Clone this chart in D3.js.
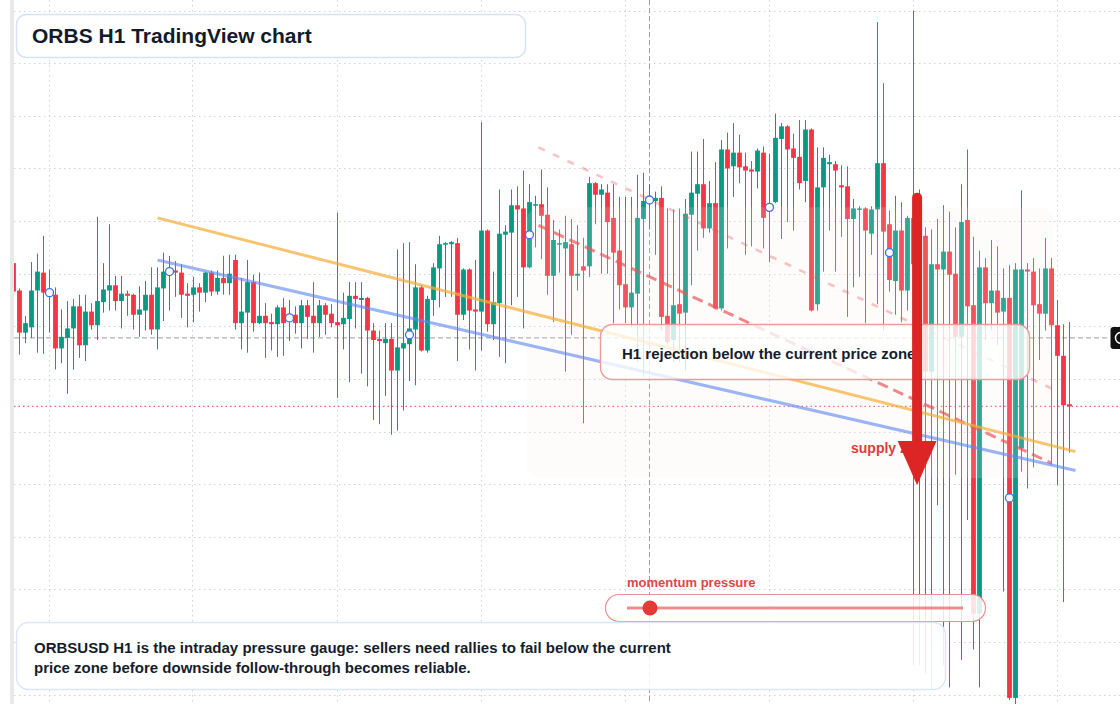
<!DOCTYPE html>
<html>
<head>
<meta charset="utf-8">
<script src="https://cdn.jsdelivr.net/npm/d3@7"></script>
<style>
  html, body { margin: 0; padding: 0; background: #fff; }
  svg { display: block; font-family: "Liberation Sans", Arial, Helvetica, sans-serif; }
</style>
</head>
<body>
<div id="chart"></div>
<script>
// ORBSUSD H1 candles, prices in 1e-5 USD (oldest first)
const PRICE_UNIT = 1e-5;
const open = [2060,2034,1994,1999,2034,2051,2034,2030,1979,1989,1998,2019,1982,2014,2001,2023,2034,2039,2024,2031,
  2030,2011,2015,2030,1997,2036,2052,2053,2051,2031,2030,2037,2032,2051,2033,2046,2041,2063,2003,2013,
  2042,2003,2010,2004,2002,2018,2008,2011,2003,2020,2010,2003,2020,2012,2004,2002,2007,2029,2025,2027,
  1996,1988,1984,1988,1958,1979,1983,1997,2037,1977,2025,2055,2078,2078,2079,2011,2054,2016,2014,2091,
  2002,2022,2087,2089,2115,2112,2056,2115,2116,2106,2048,2078,2074,2078,2048,2057,2057,2136,2125,2127,
  2103,2072,2040,2018,2031,2102,2119,2119,2122,2010,1987,2021,2013,2106,2126,2135,2093,2117,2017,2168,
  2152,2165,2152,2149,2147,2165,2111,2118,2178,2190,2169,2161,2138,2187,2021,2132,2154,2154,2134,2133,
  2102,2111,2112,2088,2111,2155,2097,2043,2091,2034,2103,2059,2086,1957,2059,2054,2071,2050,1990,2101,
  2020,1727,2056,2022,2034,2014,2027,1647,1884,2054,2052,2021,2012,2055,2001,1972,1926];
const high = [2065,2036,2010,2061,2069,2086,2054,2037,2016,2024,2026,2030,2030,2022,2104,2060,2097,2048,2048,2034,
  2031,2038,2043,2056,2056,2070,2067,2062,2059,2041,2047,2041,2052,2053,2053,2067,2068,2068,2046,2063,
  2049,2051,2022,2012,2020,2027,2025,2019,2025,2025,2042,2025,2022,2021,2108,2032,2042,2042,2042,2028,
  2003,1996,2003,2003,2073,2079,2080,2059,2039,2029,2060,2086,2080,2081,2084,2055,2055,2063,2194,2092,
  2052,2130,2096,2130,2133,2148,2135,2124,2149,2132,2101,2092,2105,2102,2096,2084,2142,2137,2135,2135,
  2135,2123,2123,2123,2144,2146,2135,2128,2133,2112,2111,2112,2121,2166,2166,2178,2138,2156,2177,2184,
  2193,2182,2165,2157,2169,2171,2164,2202,2193,2191,2183,2196,2196,2188,2170,2170,2163,2157,2153,2152,
  2121,2114,2113,2114,2289,2231,2110,2124,2118,2105,2300,2130,2094,2092,2102,2115,2109,2094,2135,2168,
  2085,2072,2065,2082,2076,2055,2058,2060,2129,2060,2065,2055,2084,2065,2025,2002,2004];
const low = [2029,1973,1984,1989,1975,1974,1994,1959,1965,1936,1959,1970,1967,1997,1987,2013,2015,2015,1998,2010,
  1997,1990,1996,1992,1978,2005,2015,2028,2008,1999,2004,2014,2023,2029,2030,2030,2030,1997,1978,1975,
  1995,2002,1970,1977,1971,1972,1986,1993,1979,1988,1975,1990,1992,1999,1932,1978,1947,1998,1955,1943,
  1911,1907,1934,1897,1901,1920,1948,1944,1976,1975,2010,2018,2028,2028,1967,2006,1978,1958,1977,1995,
  1987,1971,1965,2020,2028,1998,2055,2075,2064,2030,2004,2051,1957,1992,2034,1908,2047,2097,2050,2050,
  2003,2016,2003,1999,1966,1952,2092,2068,1996,1982,1966,1966,1958,2039,2072,2084,2089,2016,2015,2074,
  2123,2136,2068,2076,2131,2074,2061,2117,2083,2099,2091,2130,2118,2014,2015,2052,2091,2052,2085,2009,
  2037,2047,2003,2068,2021,1996,2033,2011,2004,2015,1678,1678,1670,1655,1830,1678,1657,1859,1683,1816,
  1693,1657,1987,1996,1982,1748,1645,1641,1862,1846,1866,1968,1996,1868,1849,1738,1880];
const close = [2033,1994,2003,2034,2052,2032,2030,1979,1990,1998,2019,1982,2014,2001,2024,2035,2039,2024,2031,2029,
  2011,2016,2030,1997,2037,2052,2053,2051,2030,2029,2037,2032,2051,2033,2046,2041,2050,2003,2014,2042,
  2003,2010,2003,2002,2018,2003,2007,2003,2020,2009,2003,2020,2011,2003,2001,2008,2029,2026,2027,1996,
  1987,1986,1988,1958,1980,1984,1998,2037,1977,2026,2056,2078,2079,2080,2011,2054,2015,2014,2091,2002,
  2023,2088,2090,2115,2111,2056,2118,2116,2105,2048,2082,2079,2080,2048,2050,2053,2136,2125,2130,2099,
  2070,2039,2018,2032,2103,2119,2121,2122,2009,1985,2020,2012,2107,2127,2135,2093,2117,2017,2168,2150,
  2165,2151,2148,2147,2167,2103,2114,2179,2190,2168,2160,2136,2187,2015,2132,2160,2156,2148,2132,2102,
  2112,2112,2091,2111,2155,2090,2044,2091,2034,2103,2059,2086,1957,2059,2054,2071,2049,1990,2099,2019,
  1727,2056,2022,2034,2013,2027,1647,2054,2054,2052,2020,2012,2055,2001,1972,1925,1924];

// swing markers (bar index, price)
const markerBars = [6, 26, 46, 66, 86, 106, 126, 146, 166];
const markerPrices = [2032, 2052, 2008, 1992, 2087, 2120, 2113, 2070, 1837];

// drawn trend lines as [bar, price] end points
const resistanceLine = [[24, 2103], [177, 1881]];
const supportLine = [[24, 2063], [177, 1863]];
const rejectionLine = [[87.5, 2096], [173, 1870]];
const channelLine = [[87.5, 2170], [173, 1941]];

// shaded supply area and pointers
const zoneBars = [85.5, 173.3];
const zonePrices = [2113, 1856];
const crosshairBar = 106;
const crosshairPrice = 1989;
const arrowBar = 150.6;
const arrowPrices = [2127, 1891, 1849]; // shaft top, head base, tip

const W = 1120, H = 704;
const RED = "#f23645", GREEN = "#089981";

const t0 = new Date(Date.UTC(2025, 0, 6, 18));
const barTime = i => new Date(t0.getTime() + i * 3600 * 1000);
const px = v => v * PRICE_UNIT;

const candles = open.map((o, i) => ({
  t: barTime(i), o: px(o), h: px(high[i]), l: px(low[i]), c: px(close[i])
}));

const x = d3.scaleUtc().domain([barTime(0), barTime(open.length - 1)]).range([13.5, 1069.5]);
const y = d3.scaleLinear().domain([0.0165, 0.0230]).range([694.74, 10.53]);
const X = b => x(barTime(b));

const svg = d3.select("#chart").append("svg")
  .attr("width", W).attr("height", H).attr("viewBox", `0 0 ${W} ${H}`);

svg.append("defs").append("clipPath").attr("id", "plot")
  .append("rect").attr("x", 14).attr("y", 0).attr("width", W - 14).attr("height", H);

// grid
const grid = svg.append("g").attr("stroke", "#cfd3d8").attr("stroke-width", 1).attr("stroke-dasharray", "1.5 3.5");
grid.selectAll(".hg").data(y.ticks(13)).join("line")
  .attr("x1", 14).attr("x2", W).attr("y1", d => Math.round(y(d)) + 0.5).attr("y2", d => Math.round(y(d)) + 0.5);
grid.selectAll(".vg").data(x.ticks(d3.utcDay)).join("line")
  .attr("y1", 0).attr("y2", H).attr("x1", d => Math.round(x(d)) - 0.5).attr("x2", d => Math.round(x(d)) - 0.5);

const plot = svg.append("g").attr("clip-path", "url(#plot)");

// crosshair and last price line
plot.append("line").attr("x1", X(crosshairBar)).attr("x2", X(crosshairBar)).attr("y1", 0).attr("y2", H)
  .attr("stroke", "#9b9b9b").attr("stroke-dasharray", "5 3");
plot.append("line").attr("x1", 14).attr("x2", 1110)
  .attr("y1", y(px(crosshairPrice))).attr("y2", y(px(crosshairPrice)))
  .attr("stroke", "#9b9b9b").attr("stroke-dasharray", "5 3");
const last = candles[candles.length - 1];
plot.append("line").attr("x1", 14).attr("x2", W).attr("y1", y(last.c)).attr("y2", y(last.c))
  .attr("stroke", RED).attr("stroke-dasharray", "1.5 3");

// candles
const bodyW = 4.8;
const colorOf = d => d.c >= d.o ? GREEN : RED;
const cg = plot.append("g").selectAll("g").data(candles).join("g");
cg.append("rect")
  .attr("x", d => x(d.t) - 0.5).attr("width", 1)
  .attr("y", d => y(d.h)).attr("height", d => y(d.l) - y(d.h))
  .attr("fill", colorOf);
cg.append("rect")
  .attr("x", d => x(d.t) - bodyW / 2).attr("width", bodyW)
  .attr("y", d => y(Math.max(d.o, d.c)))
  .attr("height", d => Math.max(1.5, Math.abs(y(d.o) - y(d.c))))
  .attr("fill", colorOf);

// supply zone veil
plot.append("rect")
  .attr("x", X(zoneBars[0])).attr("width", X(zoneBars[1]) - X(zoneBars[0]))
  .attr("y", y(px(zonePrices[0]))).attr("height", y(px(zonePrices[1])) - y(px(zonePrices[0])))
  .attr("rx", 14).attr("fill", "#fbeee8").attr("opacity", 0.16);

// trend lines
const seg = (pts, color, w, op, dash) => plot.append("line")
  .attr("x1", X(pts[0][0])).attr("y1", y(px(pts[0][1])))
  .attr("x2", X(pts[1][0])).attr("y2", y(px(pts[1][1])))
  .attr("stroke", color).attr("stroke-width", w).attr("stroke-opacity", op)
  .attr("stroke-dasharray", dash || null);
seg(channelLine, "#e8575a", 2.6, 0.35, "7 9");
seg(rejectionLine, "#e8575a", 3, 0.7, "11 6");
seg(resistanceLine, "#f6ad3a", 3, 0.72);
seg(supportLine, "#5f88f0", 3, 0.62);

// swing markers
plot.selectAll(".mk").data(markerBars).join("circle")
  .attr("cx", d => X(d)).attr("cy", (d, i) => y(px(markerPrices[i])))
  .attr("r", 4).attr("fill", "#fff").attr("stroke", "#3d6fe6").attr("stroke-width", 1.3);

// rejection note
svg.append("rect").attr("x", 600.5).attr("y", 324.5).attr("width", 429).attr("height", 55).attr("rx", 12)
  .attr("fill", "#fff").attr("fill-opacity", 0.78).attr("stroke", "#ee9a9a").attr("stroke-width", 1.4);
svg.append("text").attr("x", 622).attr("y", 359).attr("font-size", 15).attr("font-weight", 700)
  .attr("fill", "#151d2c").text("H1 rejection below the current price zone");

svg.append("text").attr("x", 851).attr("y", 453).attr("font-size", 14).attr("font-weight", 700)
  .attr("fill", "#e23b3b").text("supply zone");

// arrow
const ax = X(arrowBar);
svg.append("line").attr("x1", ax).attr("x2", ax)
  .attr("y1", y(px(arrowPrices[0])) + 5).attr("y2", y(px(arrowPrices[1])) + 2)
  .attr("stroke", "#dc2626").attr("stroke-width", 10).attr("stroke-linecap", "round");
svg.append("path").attr("fill", "#dc2626")
  .attr("d", `M${ax - 19.5},${y(px(arrowPrices[1]))}L${ax + 19.5},${y(px(arrowPrices[1]))}L${ax},${y(px(arrowPrices[2]))}Z`);

// momentum gauge
svg.append("text").attr("x", 627).attr("y", 587).attr("font-size", 13).attr("font-weight", 700)
  .attr("fill", "#e04646").text("momentum pressure");
svg.append("rect").attr("x", 605.5).attr("y", 594.5).attr("width", 380).attr("height", 27).attr("rx", 13.5)
  .attr("fill", "#fff").attr("fill-opacity", 0.85).attr("stroke", "#ef8f8f").attr("stroke-width", 1.2);
svg.append("line").attr("x1", 627).attr("x2", 963).attr("y1", 608).attr("y2", 608)
  .attr("stroke", "#e85c5c").attr("stroke-opacity", 0.7).attr("stroke-width", 3);
svg.append("circle").attr("cx", 650).attr("cy", 608).attr("r", 7.5).attr("fill", "#e53935");

// summary note
svg.append("rect").attr("x", 16.5).attr("y", 622.5).attr("width", 929).attr("height", 67).attr("rx", 12)
  .attr("fill", "#fff").attr("fill-opacity", 0.88).attr("stroke", "#dbe6fa").attr("stroke-width", 1.5);
const note = svg.append("text").attr("font-size", 15).attr("font-weight", 700).attr("fill", "#151d2c");
note.append("tspan").attr("x", 34).attr("y", 653)
  .text("ORBSUSD H1 is the intraday pressure gauge: sellers need rallies to fail below the current");
note.append("tspan").attr("x", 34).attr("y", 673)
  .text("price zone before downside follow-through becomes reliable.");

// title
svg.append("rect").attr("x", 16.5).attr("y", 14.5).attr("width", 509).attr("height", 43).attr("rx", 10)
  .attr("fill", "#fff").attr("stroke", "#d5e3fa").attr("stroke-width", 1.5);
svg.append("text").attr("x", 32).attr("y", 43).attr("font-size", 21).attr("font-weight", 700)
  .attr("fill", "#131b2a").text("ORBS H1 TradingView chart");

// left scale edge and price tag
svg.append("rect").attr("x", 0).attr("y", 0).attr("width", 10).attr("height", H).attr("fill", "#fff");
svg.append("rect").attr("x", 10).attr("y", 0).attr("width", 4).attr("height", H).attr("fill", "#e9e9e9");
svg.append("rect").attr("x", 1110.5).attr("y", 327).attr("width", 16).attr("height", 22).attr("rx", 3).attr("fill", "#111");
svg.append("circle").attr("cx", 1121).attr("cy", y(px(crosshairPrice))).attr("r", 5.5)
  .attr("fill", "none").attr("stroke", "#fff").attr("stroke-width", 1.4);
</script>
</body>
</html>
